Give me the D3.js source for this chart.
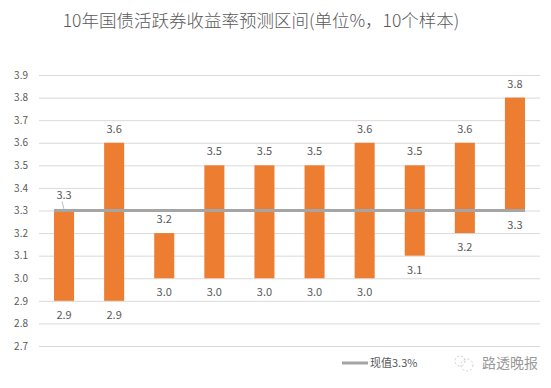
<!DOCTYPE html>
<html>
<head>
<meta charset="utf-8">
<script src="https://cdn.jsdelivr.net/npm/d3@7/dist/d3.min.js"></script>
<style>
  body { margin: 0; background: #fff; }
  text { font-family: "Noto Sans CJK SC", "Noto Sans", sans-serif; }
</style>
</head>
<body>
<div id="chart"></div>
<script>
// data
var samples = ["1", "2", "3", "4", "5", "6", "7", "8", "9", "10"];
var lows  = [2.9, 2.9, 3.0, 3.0, 3.0, 3.0, 3.0, 3.1, 3.2, 3.3];
var highs = [3.3, 3.6, 3.2, 3.5, 3.5, 3.5, 3.6, 3.5, 3.6, 3.8];
var current = 3.3;
var yTicks = [2.7, 2.8, 2.9, 3.0, 3.1, 3.2, 3.3, 3.4, 3.5, 3.6, 3.7, 3.8, 3.9];

var W = 551, H = 388;
var orange = "#ED7D31", grey = "#A5A5A5", txt = "#595959";

var svg = d3.select("#chart").append("svg")
  .attr("width", W)
  .attr("height", H);

var x = d3.scaleBand()
  .domain(samples)
  .range([39, 540])
  .paddingInner(0.6)
  .paddingOuter(0.3);

var y = d3.scaleLinear()
  .domain([2.7, 3.9])
  .range([346, 75]);

// title
svg.append("text")
  .attr("x", 261)
  .attr("y", 27)
  .attr("text-anchor", "middle")
  .style("font-size", "17.5px")
  .style("font-weight", 300)
  .style("fill", txt)
  .text("10年国债活跃券收益率预测区间(单位%，10个样本)");

// y axis with gridlines
var yAxis = svg.append("g")
  .attr("class", "yAxis")
  .attr("transform", "translate(39,0)")
  .call(d3.axisLeft(y).tickValues(yTicks).tickFormat(d3.format(".1f")).tickSize(0).tickPadding(11));
yAxis.select(".domain").remove();
yAxis.selectAll("text")
  .style("font-size", "10px")
  .style("fill", txt);
yAxis.selectAll("g.tick")
  .append("line")
  .attr("x1", 0)
  .attr("x2", 501)
  .style("stroke", "#D9D9D9")
  .style("stroke-width", 1);

var rows = samples.map(function(s, i) { return { s: s, lo: lows[i], hi: highs[i] }; });

// floating bars
svg.append("g")
  .selectAll("rect")
  .data(rows)
  .enter()
  .append("rect")
    .attr("x", function(d) { return x(d.s); })
    .attr("width", x.bandwidth())
    .attr("y", function(d) { return y(d.hi); })
    .attr("height", function(d) { return y(d.lo) - y(d.hi); })
    .style("fill", orange);

// current value line
svg.append("line")
  .attr("x1", x(samples[0]))
  .attr("x2", x(samples[samples.length - 1]) + x.bandwidth())
  .attr("y1", y(current))
  .attr("y2", y(current))
  .style("stroke", grey)
  .style("stroke-width", 3);

// labels
var fmt = d3.format(".1f");
svg.append("g")
  .selectAll("text")
  .data(rows)
  .enter()
  .append("text")
    .attr("x", function(d) { return x(d.s) + x.bandwidth() / 2; })
    .attr("y", function(d, i) { return y(d.hi) - (i == 0 ? 12 : 10); })
    .attr("text-anchor", "middle")
    .style("font-size", "11px")
    .style("fill", txt)
    .text(function(d) { return fmt(d.hi); });

svg.append("g")
  .selectAll("text")
  .data(rows)
  .enter()
  .append("text")
    .attr("x", function(d) { return x(d.s) + x.bandwidth() / 2; })
    .attr("y", function(d) { return y(d.lo) + 18; })
    .attr("text-anchor", "middle")
    .style("font-size", "11px")
    .style("fill", txt)
    .text(function(d) { return fmt(d.lo); });

// small leader line on first label
svg.append("line")
  .attr("x1", x(samples[0]) + x.bandwidth() / 2 - 2)
  .attr("y1", y(highs[0]) - 9)
  .attr("x2", x(samples[0]) + x.bandwidth() / 2)
  .attr("y2", y(highs[0]) - 1)
  .style("stroke", "#BFBFBF")
  .style("stroke-width", 1);

// legend
svg.append("line")
  .attr("x1", 342).attr("x2", 368)
  .attr("y1", 363).attr("y2", 363)
  .style("stroke", grey)
  .style("stroke-width", 3);
svg.append("text")
  .attr("x", 370)
  .attr("y", 367)
  .style("font-size", "11px")
  .style("fill", txt)
  .text("现值3.3%");

// watermark
var wm = svg.append("g").attr("transform", "translate(462,363)");
wm.append("circle").attr("cx", -2).attr("cy", -2).attr("r", 5)
  .style("fill", "none").style("stroke", "#CFCFCF").style("stroke-dasharray", "2,2");
wm.append("circle").attr("cx", 5).attr("cy", 2).attr("r", 6)
  .style("fill", "none").style("stroke", "#CFCFCF").style("stroke-dasharray", "2,2");
svg.append("text")
  .attr("x", 482)
  .attr("y", 368)
  .style("font-size", "14px")
  .style("fill", "#9A9A9A")
  .text("路透晚报");
</script>
</body>
</html>
